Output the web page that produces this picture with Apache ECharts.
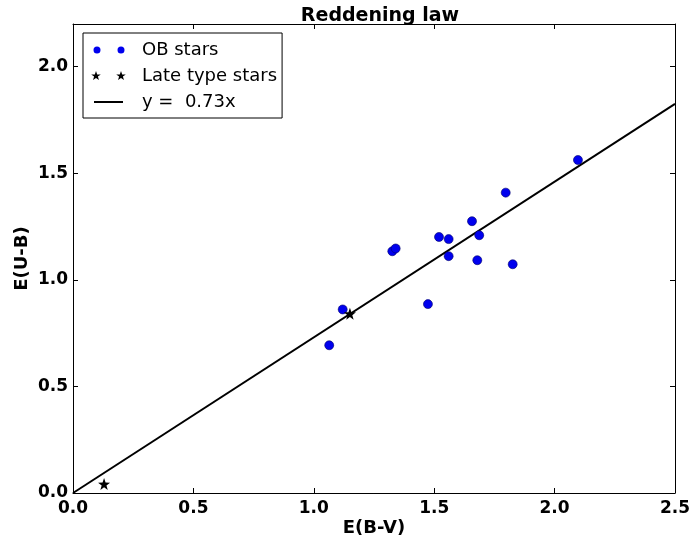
<!DOCTYPE html>
<html>
<head>
<meta charset="utf-8">
<script src="https://cdn.jsdelivr.net/npm/echarts@6/dist/echarts.min.js"></script>
<style>html,body{margin:0;padding:0;background:#fff}#c{width:690px;height:542px}</style>
</head>
<body>
<div id="c"></div>
<script>
// OB stars
const obX = [1.064, 1.120, 1.326, 1.340, 1.474, 1.520, 1.560, 1.560, 1.657, 1.687, 1.679, 1.797, 1.826, 2.097];
const obY = [0.693, 0.861, 1.134, 1.147, 0.886, 1.201, 1.191, 1.111, 1.275, 1.209, 1.092, 1.409, 1.073, 1.562];
// Late type stars
const lateX = [0.129, 1.150];
const lateY = [0.042, 0.841];
// fitted line y = 0.73x (endpoints)
const lineX = [0.0, 2.5];
const lineY = [0.0, 1.825];
const xTicks = [0, 0.5, 1.0, 1.5, 2.0, 2.5];
const yTicks = [0, 0.5, 1.0, 1.5, 2.0];

const zip = (a, b) => a.map((v, i) => [v, b[i]]);
const FONT = 'DejaVu Sans';
const starPath = 'path://M5,0L6.176,3.382L9.755,3.455L6.902,5.618L7.939,9.045L5,7L2.061,9.045L3.098,5.618L0.245,3.455L3.824,3.382Z';
// legend icons, 46x10 box
const iconDots = 'path://M0,0M2.5,5a3.5,3.5 0 1,0 7,0a3.5,3.5 0 1,0 -7,0ZM26.5,5a3.5,3.5 0 1,0 7,0a3.5,3.5 0 1,0 -7,0ZM46,10';
const iconStars = 'path://M0,0M5,0L6.176,3.382L9.755,3.455L6.902,5.618L7.939,9.045L5,7L2.061,9.045L3.098,5.618L0.245,3.455L3.824,3.382ZM30,0L31.176,3.382L34.755,3.455L31.902,5.618L32.939,9.045L30,7L27.061,9.045L28.098,5.618L25.245,3.455L28.824,3.382ZM46,10';
const iconLine = 'path://M0,0M3,4L32,4L32,6L3,6ZM46,10';

const fmt = v => v.toFixed(1);
const tickLabel = { fontFamily: FONT, fontWeight: 'bold', fontSize: 17, color: '#000' };
const axisLine = { show: true, onZero: false, lineStyle: { color: '#000', width: 1 } };
const tickX = { show: true, inside: true, length: 5, lineStyle: { color: '#000' }, customValues: xTicks };
const tickY = { show: true, inside: true, length: 5, lineStyle: { color: '#000' }, customValues: yTicks };

const chart = echarts.init(document.getElementById('c'));
chart.setOption({
  animation: false,
  backgroundColor: '#fff',
  title: {
    text: 'Reddening law', left: 375, top: 2, textAlign: 'center',
    textStyle: { fontFamily: FONT, fontWeight: 'bold', fontSize: 19, color: '#000' }
  },
  grid: { left: 73, right: 15, top: 24, bottom: 49, outerBoundsMode: 'none', containLabel: false },
  legend: {
    orient: 'vertical', left: 83, top: 33,
    padding: [7, 5, 6, 8], itemGap: 6,
    itemWidth: 46, itemHeight: 10,
    borderColor: '#000', borderWidth: 1, backgroundColor: '#fff',
    textStyle: { fontFamily: FONT, fontSize: 18, color: '#000', lineHeight: 20 },
    data: [
      { name: 'OB stars', icon: iconDots, itemStyle: { color: '#0000ee', borderWidth: 0 } },
      { name: 'Late type stars', icon: iconStars, itemStyle: { color: '#000', borderWidth: 0 } },
      { name: 'y =  0.73x', icon: iconLine, itemStyle: { color: '#000', borderWidth: 0 } }
    ]
  },
  xAxis: [
    {
      type: 'value', min: 0, max: 2.5, interval: 0.5,
      name: 'E(B-V)', nameLocation: 'middle', nameGap: 26, nameMoveOverlap: false,
      nameTextStyle: { fontFamily: FONT, fontWeight: 'bold', fontSize: 18, color: '#000' },
      axisLine, axisTick: tickX, splitLine: { show: false },
      axisLabel: { ...tickLabel, margin: 7, formatter: fmt, customValues: xTicks }
    },
    {
      type: 'value', position: 'top', min: 0, max: 2.5, interval: 0.5,
      axisLine, axisTick: tickX, splitLine: { show: false }, axisLabel: { show: false }
    }
  ],
  yAxis: [
    {
      type: 'value', min: 0, max: 2.2, interval: 0.5,
      name: 'E(U-B)', nameLocation: 'middle', nameGap: 42, nameRotate: 90, nameMoveOverlap: false,
      nameTextStyle: { fontFamily: FONT, fontWeight: 'bold', fontSize: 18, color: '#000' },
      axisLine, axisTick: tickY, splitLine: { show: false },
      axisLabel: { ...tickLabel, margin: 5, formatter: fmt, customValues: yTicks }
    },
    {
      type: 'value', position: 'right', min: 0, max: 2.2, interval: 0.5,
      axisLine, axisTick: tickY, splitLine: { show: false }, axisLabel: { show: false }
    }
  ],
  series: [
    {
      name: 'y =  0.73x', type: 'line', data: zip(lineX, lineY),
      symbol: 'none', lineStyle: { color: '#000', width: 2 }, itemStyle: { color: '#000' }, z: 2
    },
    {
      name: 'OB stars', type: 'scatter', data: zip(obX, obY),
      symbol: 'circle', symbolSize: 9,
      itemStyle: { color: '#0000ee', borderColor: '#00006a', borderWidth: 0.6, opacity: 1 }, z: 3
    },
    {
      name: 'Late type stars', type: 'scatter', data: zip(lateX, lateY),
      symbol: starPath, symbolSize: 12,
      itemStyle: { color: '#000', opacity: 1 }, z: 4
    }
  ]
});
</script>
</body>
</html>
